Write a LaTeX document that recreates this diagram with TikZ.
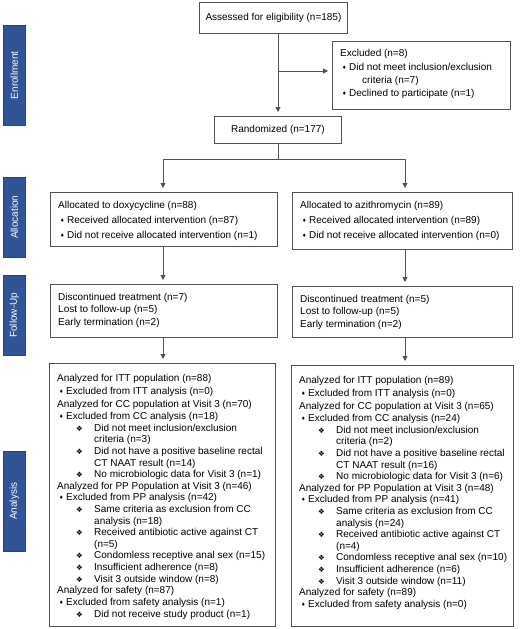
\documentclass[tikz,border=0pt]{standalone}
\usepackage{fontspec}
\setmainfont{Liberation Sans}
\newfontfamily\dv{DejaVu Sans}
\usetikzlibrary{arrows.meta}
\definecolor{sidebl}{HTML}{2F5597}
\definecolor{lncol}{HTML}{505050}
\newcommand\dm{\raisebox{1pt}{\dv\fontsize{5}{5}\selectfont ♦}}
\newcommand\dx{{\dv\fontsize{7.5}{7.5}\selectfont ❖}}
\newcommand\Lb[1]{\hspace*{2pt}\makebox[7pt][l]{\dm}#1}
\newcommand\Lc[1]{\hspace*{19pt}\makebox[18pt][l]{\dx}#1}
\newcommand\Ld[1]{\hspace*{37pt}#1}
\tikzset{
  box/.style={draw=lncol, line width=0.9pt, anchor=north west, inner sep=0pt},
  txt/.style={anchor=north west, inner sep=0pt, align=left, font=\fontsize{10}{11.6}\selectfont},
  side/.style={fill=sidebl, draw=sidebl!80!black, line width=0.5pt, anchor=north west, inner sep=0pt, minimum width=22pt},
  sidetxt/.style={text=white, rotate=90, font=\fontsize{10}{12}\selectfont, inner sep=0pt},
  arr/.style={draw=lncol, line width=0.9pt, -{Triangle[length=5pt,width=5pt]}, shorten >=4pt},
  ln/.style={draw=lncol, line width=0.9pt}
}
\begin{document}
\begin{tikzpicture}[x=1pt,y=-1pt]
\useasboundingbox (0,0) rectangle (520,629);
% sidebars
\node[side, minimum height=100pt] (sEn) at (3,25) {};
\node[sidetxt] (tEn) at (sEn.center) {Enrollment};
\node[side, minimum height=80pt] (sAl) at (3,177) {};
\node[sidetxt] (tAl) at (sAl.center) {Allocation};
\node[side, minimum height=80pt] (sFo) at (3,275) {};
\node[sidetxt] (tFo) at (sFo.center) {Follow-Up};
\node[side, minimum height=100pt] (sAn) at (3,451) {};
\node[sidetxt] (tAn) at (sAn.center) {Analysis};
% enrollment
\node[box, minimum width=148pt, minimum height=31pt] (assess) at (199,2) {};
\node[font=\fontsize{10}{12}\selectfont] (tassess) at (assess.center) {Assessed for eligibility (n=185)};
\node[box, minimum width=178pt, minimum height=68pt] (excl) at (332,41) {};
\node[txt, font=\fontsize{10}{13.3}\selectfont] (texcl) at (340,49.5) {Excluded (n=8)\\
\Lb{Did not meet inclusion/exclusion}\\
\hspace*{22pt}criteria (n=7)\\
\Lb{Declined to participate (n=1)}};
\node[box, minimum width=127pt, minimum height=27pt] (rand) at (214,116) {};
\node[font=\fontsize{10}{12}\selectfont] (trand) at (rand.center) {Randomized (n=177)};
% allocation
\node[box, minimum width=227pt, minimum height=54pt] (alL) at (50,192) {};
\node[txt, font=\fontsize{10}{15}\selectfont] (talL) at (58,201) {Allocated to doxycycline (n=88)\\
\Lb{Received allocated intervention (n=87)}\\
\Lb{Did not receive allocated intervention (n=1)}};
\node[box, minimum width=220pt, minimum height=57pt] (alR) at (292,192) {};
\node[txt, font=\fontsize{10}{15}\selectfont] (talR) at (300,201) {Allocated to azithromycin (n=89)\\
\Lb{Received allocated intervention (n=89)}\\
\Lb{Did not receive allocated intervention (n=0)}};
% follow-up
\node[box, minimum width=227pt, minimum height=53pt] (fuL) at (50,284) {};
\node[txt, font=\fontsize{10}{12.5}\selectfont] (tfuL) at (58,293) {Discontinued treatment (n=7)\\
Lost to follow-up (n=5)\\
Early termination (n=2)};
\node[box, minimum width=220pt, minimum height=51pt] (fuR) at (292,286) {};
\node[txt, font=\fontsize{10}{12.3}\selectfont] (tfuR) at (300,295) {Discontinued treatment (n=5)\\
Lost to follow-up (n=5)\\
Early termination (n=2)};
% analysis
\node[box, minimum width=226pt, minimum height=263pt] (anL) at (49,363) {};
\node[txt] (tanL) at (57,374.5) {Analyzed for ITT population (n=88)\\[1pt]
\Lb{Excluded from ITT analysis (n=0)}\\[1pt]
Analyzed for CC population at Visit 3 (n=70)\\[1pt]
\Lb{Excluded from CC analysis (n=18)}\\
\Lc{Did not meet inclusion/exclusion}\\
\Ld{criteria (n=3)}\\
\Lc{Did not have a positive baseline rectal}\\
\Ld{CT NAAT result (n=14)}\\
\Lc{No microbiologic data for Visit 3 (n=1)}\\
Analyzed for PP Population at Visit 3 (n=46)\\
\Lb{Excluded from PP analysis (n=42)}\\
\Lc{Same criteria as exclusion from CC}\\
\Ld{analysis (n=18)}\\
\Lc{Received antibiotic active against CT}\\
\Ld{(n=5)}\\
\Lc{Condomless receptive anal sex (n=15)}\\
\Lc{Insufficient adherence (n=8)}\\
\Lc{Visit 3 outside window (n=8)}\\
Analyzed for safety (n=87)\\
\Lb{Excluded from safety analysis (n=1)}\\[1pt]
\Lc{Did not receive study product (n=1)}};
\node[box, minimum width=222pt, minimum height=261pt] (anR) at (291,365) {};
\node[txt] (tanR) at (299,376.5) {Analyzed for ITT population (n=89)\\[1pt]
\Lb{Excluded from ITT analysis (n=0)}\\[1pt]
Analyzed for CC population at Visit 3 (n=65)\\[1pt]
\Lb{Excluded from CC analysis (n=24)}\\
\Lc{Did not meet inclusion/exclusion}\\
\Ld{criteria (n=2)}\\
\Lc{Did not have a positive baseline rectal}\\
\Ld{CT NAAT result (n=16)}\\
\Lc{No microbiologic data for Visit 3 (n=6)}\\
Analyzed for PP Population at Visit 3 (n=48)\\
\Lb{Excluded from PP analysis (n=41)}\\
\Lc{Same criteria as exclusion from CC}\\
\Ld{analysis (n=24)}\\
\Lc{Received antibiotic active against CT}\\
\Ld{(n=4)}\\
\Lc{Condomless receptive anal sex (n=10)}\\
\Lc{Insufficient adherence (n=6)}\\
\Lc{Visit 3 outside window (n=11)}\\
Analyzed for safety (n=89)\\
\Lb{Excluded from safety analysis (n=0)}};
% connectors
\coordinate (br) at (278,71);
\coordinate (sp) at (278,159);
\coordinate (spL) at (163,159);
\coordinate (spR) at (405,159);
\draw[arr] (assess.south -| br) -- (rand.north -| br);
\draw[arr] (br) -- (br -| excl.west);
\draw[ln] (rand.south -| sp) -- (sp);
\draw[ln] (spL) -- (spR);
\draw[arr] (spL) -- (spL |- alL.north);
\draw[arr] (spR) -- (spR |- alR.north);
\draw[arr] (spL |- alL.south) -- (spL |- fuL.north);
\draw[arr] (spR |- alR.south) -- (spR |- fuR.north);
\draw[arr] (spL |- fuL.south) -- (spL |- anL.north);
\draw[arr] (spR |- fuR.south) -- (spR |- anR.north);
\end{tikzpicture}
\end{document}
